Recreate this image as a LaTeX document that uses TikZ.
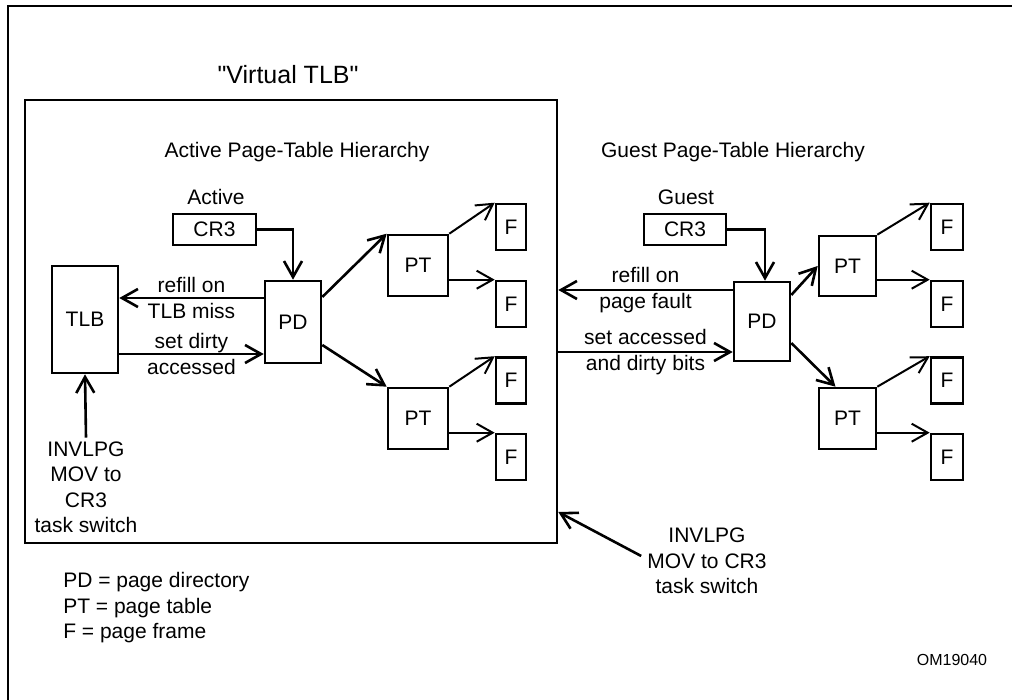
\documentclass[tikz,border=0pt]{standalone}
\usepackage{fontspec}
\setmainfont{Liberation Sans}
\newfontfamily\titlefont{Liberation Sans}[Ligatures=TeXOff]
\usetikzlibrary{arrows.meta,calc,positioning}

\tikzset{
  blk/.style={draw,line width=2.6pt,inner sep=0pt},
  lbl/.style={align=center,inner sep=2pt},
  thin/.style={line width=2pt}
}

\begin{document}
\begin{tikzpicture}[x=1pt,y=-1pt,line width=2.6pt,
  >={Straight Barb[length=16pt,width=18pt]},
  every node/.style={font=\fontsize{21}{25.5}\selectfont}]
\useasboundingbox (0,0) rectangle (1012,700);
\draw (8,700) -- (8,6) -- (1012,6);
% virtual TLB box
\node[font=\titlefont\fontsize{25}{30}\selectfont] (vtitle) at (288,75) {"Virtual TLB"};
\node[blk,minimum width=532pt,minimum height=443pt] (vtlb) at (291,321.5) {};
\node (hdra) at (297,152) {Active Page-Table Hierarchy};
\node (hdrg) at (733,152) {Guest Page-Table Hierarchy};
% active side
\node (lbla) at (216,197) {Active};
\node[blk,minimum width=83pt,minimum height=31pt] (cra) at (214.5,229.5) {CR3};
\node[blk,minimum width=66pt,minimum height=107pt] (tlb) at (85,319.5) {TLB};
\node[blk,minimum width=56pt,minimum height=82pt] (pda) at (293,322) {PD};
\node[blk,minimum width=60pt,minimum height=61pt] (pta1) at (418,265.5) {PT};
\node[blk,minimum width=60pt,minimum height=61pt] (pta2) at (418,418.5) {PT};
\node[blk,minimum width=30pt,minimum height=46pt] (fa1) at (511,227) {F};
\node[blk,minimum width=30pt,minimum height=46pt] (fa2) at (511,304) {F};
\node[blk,minimum width=30pt,minimum height=46pt] (fa3) at (511,380.5) {F};
\node[blk,minimum width=30pt,minimum height=46pt] (fa4) at (511,457) {F};
% guest side
\node (lblg) at (686,197) {Guest};
\node[blk,minimum width=82pt,minimum height=31pt] (crg) at (685,229.5) {CR3};
\node[blk,minimum width=56pt,minimum height=79pt] (pdg) at (762,321.5) {PD};
\node[blk,minimum width=57pt,minimum height=60pt] (ptg1) at (847.5,266) {PT};
\node[blk,minimum width=57pt,minimum height=61pt] (ptg2) at (847.5,418.5) {PT};
\node[blk,minimum width=32pt,minimum height=46pt] (fg1) at (947,227) {F};
\node[blk,minimum width=32pt,minimum height=46pt] (fg2) at (947,304) {F};
\node[blk,minimum width=32pt,minimum height=46pt] (fg3) at (947,380.5) {F};
\node[blk,minimum width=32pt,minimum height=46pt] (fg4) at (947,457) {F};
% invalidation sources and legend
\node[lbl,inner sep=3pt] (invt) at (86,487.5) {INVLPG\\MOV to\\CR3\\task switch};
\node[lbl,inner sep=5pt] (invg) at (707,561) {INVLPG\\MOV to CR3\\task switch};
\node[align=left,anchor=west,inner sep=0pt] (legend) at (62,608)
  {PD = page directory\\PT = page table\\F = page frame};
\node[font=\fontsize{16}{19}\selectfont] (fig) at (952,660) {OM19040};

% connectors
\draw[->] (cra.east) -| (pda.north);
\draw[->] (crg.east) -| ([xshift=3pt]pdg.north);
\draw[->] ([yshift=24pt]pda.west) coordinate (ra) -- (tlb.east |- ra)
  node[lbl,midway] {refill on\\TLB miss};
\draw[->] ([yshift=-34.5pt]tlb.east) coordinate (sa) -- (pda.west |- sa)
  node[lbl,midway] {set dirty\\accessed};
\draw[->] ([yshift=31.5pt]pdg.west) coordinate (rg) -- (vtlb.east |- rg)
  node[lbl,midway] {refill on\\page fault};
\coordinate (sg) at ([yshift=-30.5pt]pdg.west);
\draw[->] (vtlb.east |- sg) -- (sg)
  node[lbl,midway] {set accessed\\and dirty bits};
\draw[->] (invt.north) -- (tlb.south);
\draw[->] ([yshift=5pt]invg.west) -- ([yshift=-190.5pt]vtlb.east);
\draw[->] ([yshift=25pt]pda.east) -- (pta1.north west);
\draw[->] ([yshift=-23pt]pda.east) -- (pta2.north west);
\draw[->] ([yshift=26.5pt]pdg.east) -- (ptg1.west);
\draw[->] ([yshift=-21.5pt]pdg.east) -- ([xshift=-12pt]ptg2.north);
\foreach \p/\a/\b in {pta1/fa1/fa2,pta2/fa3/fa4,ptg1/fg1/fg2,ptg2/fg3/fg4}{
  \draw[->,thin] (\p.north east) -- (\a.north west);
  \draw[->,thin] (\p.east |- \b.north west) -- (\b.north west);
}
\end{tikzpicture}
\end{document}
